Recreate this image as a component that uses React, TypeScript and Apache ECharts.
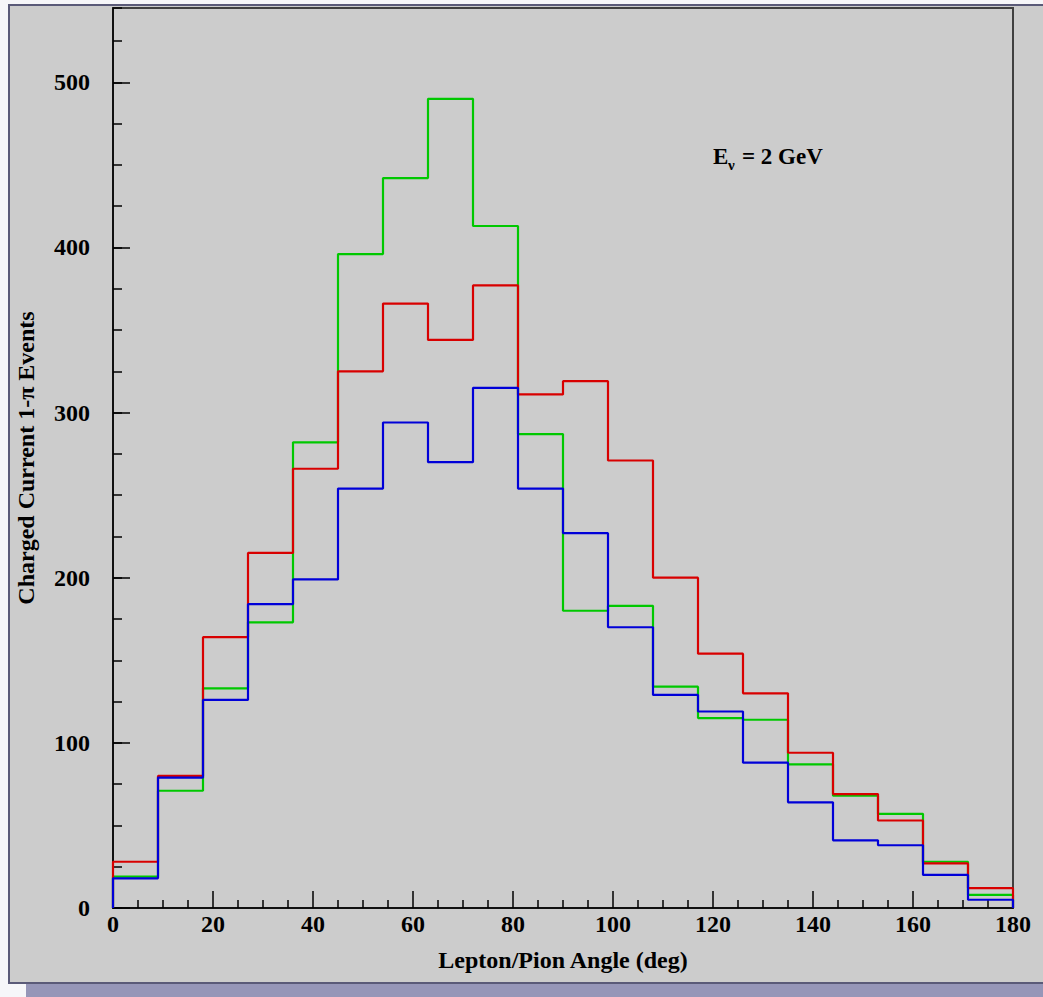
import React, { useEffect, useRef } from "react";
import * as echarts from "echarts";

// Bin lower edges (deg), bin width 9 deg, last bin ends at 180
const binStarts = [0, 9, 18, 27, 36, 45, 54, 63, 72, 81, 90, 99, 108, 117, 126, 135, 144, 153, 162, 171];
const xEnd = 180;

const greenValues = [19, 71, 133, 173, 282, 396, 442, 490, 413, 287, 180, 183, 134, 115, 114, 87, 68, 57, 28, 8];
const redValues = [28, 80, 164, 215, 266, 325, 366, 344, 377, 311, 319, 271, 200, 154, 130, 94, 69, 53, 27, 12];
const blueValues = [18, 79, 126, 184, 199, 254, 294, 270, 315, 254, 227, 170, 129, 119, 88, 64, 41, 38, 20, 5];

const xTitle = "Lepton/Pion Angle (deg)";
const yTitle = "Charged Current 1-\u03c0 Events";

const FONT = "'Liberation Serif', 'Times New Roman', serif";

function histData(vals: number[]) {
  const d: number[][] = [[binStarts[0], 0]];
  binStarts.forEach((x, i) => d.push([x, vals[i]]));
  d.push([xEnd, vals[vals.length - 1]]);
  d.push([xEnd, 0]);
  return d;
}

function histSeries(name: string, vals: number[], color: string, z: number) {
  return {
    name,
    type: "line",
    step: "end",
    data: histData(vals),
    showSymbol: false,
    symbol: "none",
    lineStyle: { color, width: 2.2 },
    z,
    silent: true,
  };
}

export default function App() {
  const ref = useRef<HTMLDivElement>(null);
  useEffect(() => {
    if (!ref.current) return;
    const chart = echarts.init(ref.current, undefined, { renderer: "svg" });
    chart.setOption({
      animation: false,
      backgroundColor: "#f6f6f9",
      graphic: [
        { type: "rect", z: -10, shape: { x: 26, y: 983, width: 1030, height: 20 }, style: { fill: "#9696b8" } },
        { type: "rect", z: -9, shape: { x: 9, y: 5, width: 1050, height: 978 }, style: { fill: "#cccccc", stroke: "#5a5a78", lineWidth: 2 } },
        { type: "text", z: 10, x: 713, y: 145, style: { text: "E", font: `bold 23px ${FONT}`, fill: "#000" } },
        { type: "text", z: 10, x: 728, y: 157, style: { text: "\u03bd", font: `bold 15px ${FONT}`, fill: "#000" } },
        { type: "text", z: 10, x: 742, y: 145, style: { text: "= 2 GeV", font: `bold 23px ${FONT}`, fill: "#000" } },
      ],
      grid: {
        left: 113,
        right: 30,
        top: 8,
        bottom: 89,
        show: true,
        backgroundColor: "transparent",
        borderColor: "#404040",
        borderWidth: 2,
      },
      xAxis: {
        type: "value",
        min: 0,
        max: 180,
        interval: 20,
        name: xTitle,
        nameLocation: "middle",
        nameGap: 40,
        nameTextStyle: { fontFamily: FONT, fontWeight: "bold", fontSize: 24, color: "#000" },
        axisLine: { show: true, onZero: false, lineStyle: { color: "#000", width: 1.5 } },
        axisTick: { show: true, inside: true, length: 17, lineStyle: { color: "#000", width: 1.5 } },
        minorTick: { show: true, splitNumber: 4, length: 8, lineStyle: { color: "#000", width: 1.5 } },
        axisLabel: { fontFamily: FONT, fontWeight: "bold", fontSize: 24, color: "#000", margin: 4 },
        splitLine: { show: false },
        minorSplitLine: { show: false },
      },
      yAxis: [
        {
          type: "value",
          min: 0,
          max: 545,
          interval: 100,
          name: yTitle,
          nameLocation: "middle",
          nameGap: 75,
          nameTextStyle: { fontFamily: FONT, fontWeight: "bold", fontSize: 24, color: "#000" },
          axisLine: { show: true, onZero: false, lineStyle: { color: "#000", width: 1.5 } },
          axisTick: { show: true, inside: true, length: 17, lineStyle: { color: "#000", width: 1.5 } },
          axisLabel: { fontFamily: FONT, fontWeight: "bold", fontSize: 24, color: "#000", margin: 23, showMaxLabel: false },
          splitLine: { show: false },
        },
        {
          type: "value",
          min: 0,
          max: 545,
          interval: 25,
          position: "left",
          offset: 0,
          axisLine: { show: false },
          axisTick: { show: true, inside: true, length: 9, lineStyle: { color: "#000", width: 1.5 } },
          axisLabel: { show: false },
          splitLine: { show: false },
        },
      ],
      series: [
        histSeries("green", greenValues, "#00c800", 2),
        histSeries("red", redValues, "#d80000", 3),
        histSeries("blue", blueValues, "#0000d8", 4),
      ],
    });
    return () => chart.dispose();
  }, []);
  return (
    <div
      ref={ref}
      style={{ position: "absolute", left: 0, top: 0, width: 1043, height: 997 }}
    />
  );
}
